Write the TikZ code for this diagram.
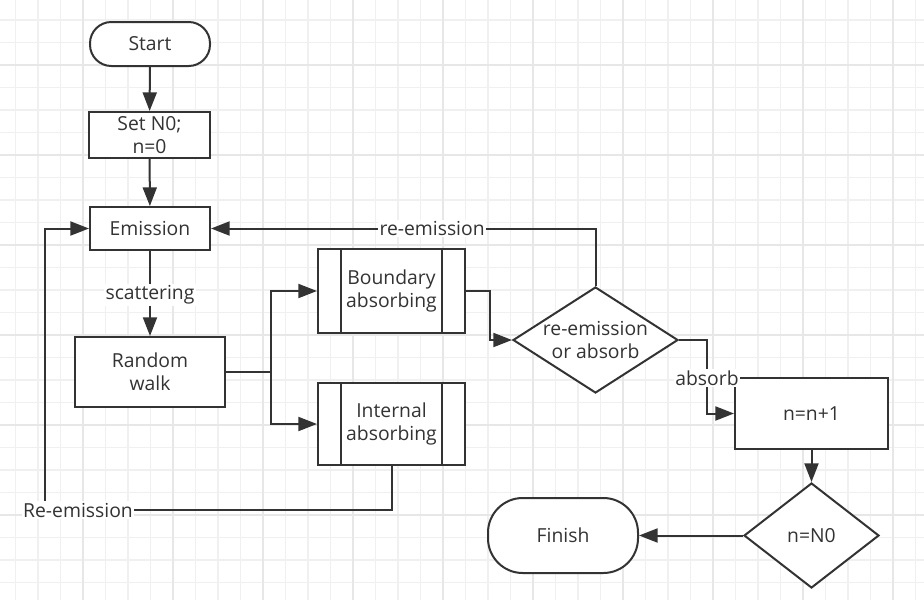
\documentclass[tikz,border=0pt]{standalone}
\usepackage{fontspec}
\setmainfont{Open Sans}
\usetikzlibrary{arrows.meta,shapes.geometric}
\definecolor{ln}{HTML}{333333}
\definecolor{gmin}{HTML}{F0F0F0}
\definecolor{gmaj}{HTML}{E7E7E7}
\begin{document}
\begin{tikzpicture}[x=0.75pt,y=-0.75pt,
  base/.style={draw=ln, line width=1.5pt, fill=white, text=ln, inner sep=0pt, align=center,
    font=\fontsize{14.5}{17.5}\selectfont},
  proc/.style={base, rectangle},
  term/.style={base, rectangle},
  dec/.style={base, diamond},
  conn/.style={draw=ln, line width=1.5pt, -{Triangle[length=14pt,width=10.5pt]}},
  plain/.style={draw=ln, line width=1.5pt},
  lbl/.style={fill=white, text=ln, inner sep=1pt, font=\fontsize{14.5}{17.5}\selectfont}]
\fill[white] (0,0) rectangle (924,600);
\useasboundingbox (0,0) rectangle (924,600);
% grid
\foreach \k in {0,...,40} \draw[gmin, line width=1pt] (15.5+22.5*\k,0) -- (15.5+22.5*\k,600);
\foreach \k in {0,...,26} \draw[gmin, line width=1pt] (0,20+22.5*\k) -- (924,20+22.5*\k);
\foreach \k in {3,7,...,39} \draw[gmaj, line width=1pt] (15.5+22.5*\k,0) -- (15.5+22.5*\k,600);
\foreach \k in {2,6,...,26} \draw[gmaj, line width=1pt] (0,20+22.5*\k) -- (924,20+22.5*\k);

% nodes
\node[term, minimum width=90pt, minimum height=33pt, rounded corners=16pt] (start) at (150,44) {Start};
\node[proc, minimum width=90.75pt, minimum height=34.5pt] (set) at (149.5,135) {Set N0;\\n=0};
\node[proc, minimum width=90pt, minimum height=32.25pt] (emi) at (150,228.5) {Emission};
\node[proc, minimum width=112.5pt, minimum height=52.5pt] (rw) at (150,372) {Random\\walk};
\node[proc, minimum width=110.25pt, minimum height=63pt] (ba) at (391.5,291) {Boundary\\absorbing};
\node[proc, minimum width=110.25pt, minimum height=61.5pt] (ia) at (391.5,424) {Internal\\absorbing};
\draw[plain] ([xshift=18pt]ba.north west) -- ([xshift=18pt]ba.south west);
\draw[plain] ([xshift=-18pt]ba.north east) -- ([xshift=-18pt]ba.south east);
\draw[plain] ([xshift=18pt]ia.north west) -- ([xshift=18pt]ia.south west);
\draw[plain] ([xshift=-18pt]ia.north east) -- ([xshift=-18pt]ia.south east);
\node[dec, aspect=1.56, minimum width=123.75pt, minimum height=79.5pt] (d1) at (595.5,340) {re-emission\\or absorb};
\node[proc, minimum width=114.75pt, minimum height=53.25pt] (inc) at (811.5,413.5) {n=n+1};
\node[dec, aspect=1.29, minimum width=101.25pt, minimum height=78.75pt] (d2) at (811.5,535.5) {n=N0};
\node[term, minimum width=112.5pt, minimum height=56.25pt, rounded corners=26pt] (fin) at (563,535.5) {Finish};

% helper coordinates
\coordinate (rwj) at (271,372);
\coordinate (baj) at (490,291);
\coordinate (d1r) at (707,340);
\coordinate (iab) at (45,510);

% connectors
\draw[conn] (start) -- (set);
\draw[conn] (set) -- (emi);
\draw[conn] (emi) -- (rw) node[lbl, pos=0.52] {scattering};
\draw[plain] (rw.east) -- (rwj);
\draw[conn] (rwj) |- (ba.west);
\draw[conn] (rwj) |- (ia.west);
\draw[conn] (ba.east) -- (baj) |- (d1.west);
\draw[conn] (d1.north) |- (emi.east) node[lbl, pos=0.7125] {re-emission};
\draw[conn] (d1.east) -- (d1r) |- (inc.west) node[lbl, pos=0.26] {absorb};
\draw[conn] (ia.south) |- (iab) |- (emi.west);
\node[lbl] (rel) at (78,510) {Re-emission};
\draw[conn] (inc) -- (d2);
\draw[conn] (d2.west) -- (fin.east);
\end{tikzpicture}
\end{document}
